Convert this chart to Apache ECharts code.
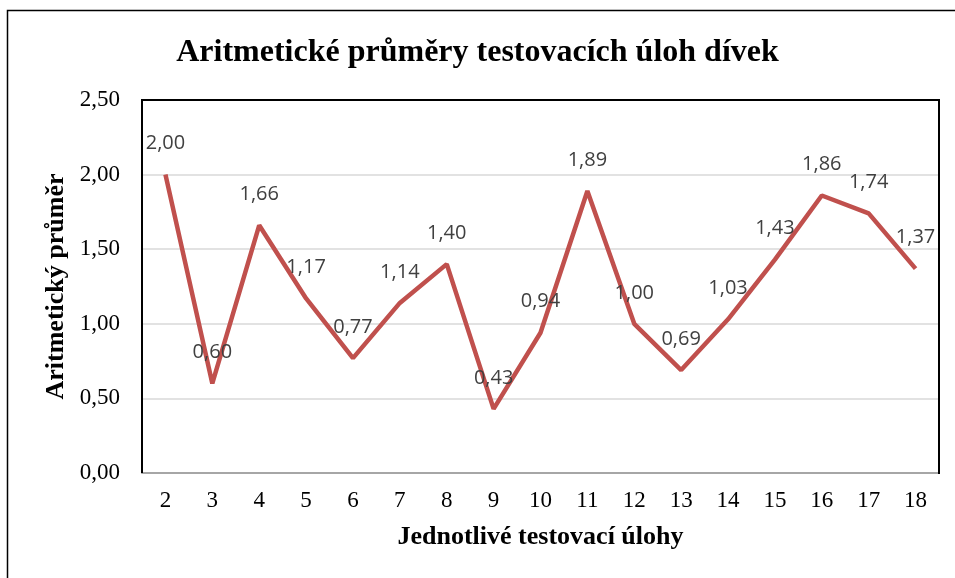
<!DOCTYPE html>
<html>
<head>
<meta charset="utf-8">
<script src="https://cdn.jsdelivr.net/npm/echarts@6/dist/echarts.min.js"></script>
<style>html,body{margin:0;padding:0;background:#fff;}#c{width:955px;height:578px;}</style>
</head>
<body>
<div id="c"></div>
<script>
const titleText = 'Aritmetické průměry testovacích úloh dívek';
const xAxisName = 'Jednotlivé testovací úlohy';
const yAxisName = 'Aritmetický průměr';
const categories = ['2','3','4','5','6','7','8','9','10','11','12','13','14','15','16','17','18'];
const values = [2.00,0.60,1.66,1.17,0.77,1.14,1.40,0.43,0.94,1.89,1.00,0.69,1.03,1.43,1.86,1.74,1.37];
const yTicks = {min:0, max:2.5, interval:0.5};

const serif = '"Liberation Serif", "Times New Roman", serif';
const G = {left:142, top:100, right:16, bottom:105};
const R = 955 - G.right, B = 578 - G.bottom;
const chart = echarts.init(document.getElementById('c'));
chart.setOption({
  animation:false,
  backgroundColor:'#fff',
  graphic:[
    {type:'rect', shape:{x:7.5,y:10.5,width:960,height:580}, style:{fill:'none',stroke:'#000',lineWidth:1.5}, z:-1},
    {type:'polyline', shape:{points:[[G.left,B],[G.left,G.top],[R,G.top],[R,B+1]]}, style:{fill:'none',stroke:'#000',lineWidth:2}, z:1}
  ],
  title:{text:titleText,left:'center',top:32,textStyle:{fontFamily:serif,fontWeight:'bold',fontSize:32,color:'#000'}},
  grid:{left:G.left,top:G.top,right:G.right,bottom:G.bottom,show:false},
  xAxis:{type:'category',data:categories,boundaryGap:true,
    name:xAxisName,nameLocation:'middle',nameGap:51,
    nameTextStyle:{fontFamily:serif,fontWeight:'bold',fontSize:26,color:'#000'},
    axisLine:{lineStyle:{color:'#a6a6a6',width:2}},axisTick:{show:false},
    axisLabel:{fontFamily:serif,fontSize:23,color:'#000',margin:16}},
  yAxis:{type:'value',min:yTicks.min,max:yTicks.max,interval:yTicks.interval,
    name:yAxisName,nameLocation:'middle',nameGap:66,
    nameTextStyle:{fontFamily:serif,fontWeight:'bold',fontSize:26,color:'#000'},
    axisLine:{show:false},axisTick:{show:false},
    splitLine:{lineStyle:{color:'#d9d9d9',width:1.5}},
    axisLabel:{fontFamily:serif,fontSize:23,color:'#000',margin:22,formatter:v=>v.toFixed(2).replace('.',',')}},
  series:[{type:'line',data:values,symbol:'circle',symbolSize:2,showSymbol:true,
    itemStyle:{color:'rgba(192,80,77,0)'},
    lineStyle:{color:'#C0504D',width:4.5},
    label:{show:true,position:'top',distance:20,fontFamily:'"Open Sans","Noto Sans",sans-serif',fontSize:20,color:'#404040',
      formatter:p=>p.value.toFixed(2).replace('.',',')}}]
});
</script>
</body>
</html>
